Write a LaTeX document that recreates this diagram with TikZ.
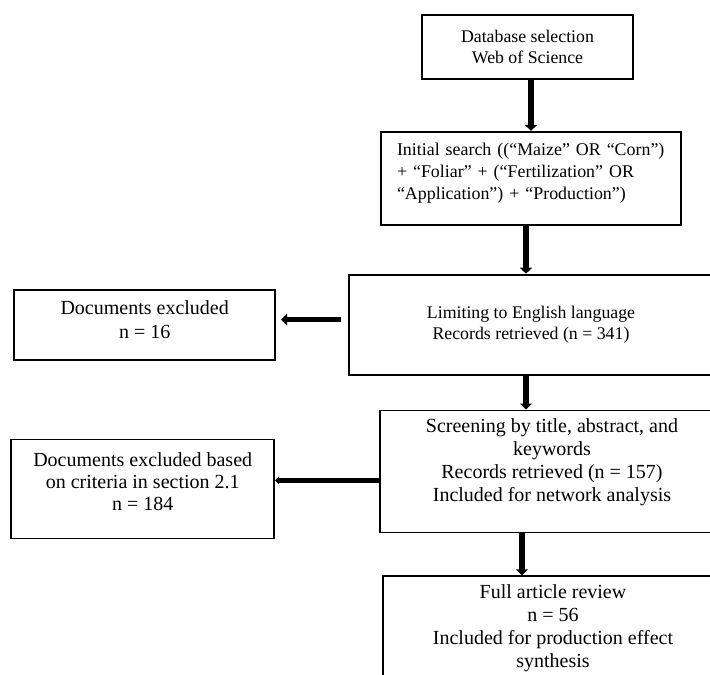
\documentclass[tikz,border=0pt]{standalone}
\usepackage{fontspec}
\setmainfont{Liberation Serif}
\usetikzlibrary{arrows.meta,positioning}

\begin{document}
\begin{tikzpicture}[
    x=1pt, y=1pt,
    box/.style={draw, line width=1.8pt, align=center, inner sep=0pt, font=\fontsize{17.8}{20.5}\selectfont},
    bigbox/.style={box, font=\fontsize{20}{23}\selectfont},
    link/.style={-{Triangle[length=6pt, width=12pt]}, line width=5.5pt},
    sidelink/.style={-{Triangle[length=4pt, width=8pt]}, line width=5pt}
]
\clip (0,0) rectangle (710,-675);
\node[box, minimum width=211pt, minimum height=64pt] (db) at (527.5,-47) {Database selection\\Web of Science};
\node[box, below=51pt of db, xshift=3.5pt, align=left, text width=268pt, inner xsep=16pt, minimum height=93pt, text depth=57.5pt, font=\fontsize{17.9}{21.7}\selectfont] (search) {Initial search ((“Maize” OR “Corn”)\\+ “Foliar” + (“Fertilization” OR\\“Application”) + “Production”)};
\node[box, below=48pt of search, minimum width=364pt, minimum height=100pt] (limit) {Limiting to English language\\Records retrieved (n = 341)};
\node[bigbox, left=72pt of limit, minimum width=261pt, minimum height=70pt, text depth=10pt, font=\fontsize{20}{24}\selectfont] (excl1) {Documents excluded\\n = 16};
\node[bigbox, below=34pt of limit, xshift=21pt, minimum width=344pt, minimum height=122pt, text depth=22pt] (screen) {Screening by title, abstract, and\\keywords\\Records retrieved (n = 157)\\Included for network analysis};
\node[bigbox, left=104pt of screen, yshift=-17.5pt, minimum width=263pt, minimum height=99pt, text depth=15pt, font=\fontsize{20}{22}\selectfont] (excl2) {Documents excluded based\\on criteria in section 2.1\\n = 184};
\node[bigbox, below=42pt of screen, xshift=1pt, minimum width=340pt, minimum height=118pt, text depth=18pt] (review) {Full article review\\n = 56\\Included for production effect\\synthesis};
\draw[link] (search.north |- db.south) -- (search.north);
\draw[link] ([xshift=-5pt]search.south) -- ([xshift=-5pt]limit.north);
\draw[link, shorten <=7pt, shorten >=5pt] ([yshift=5pt]limit.west) -- ([yshift=5pt]limit.west -| excl1.east);
\draw[link] ([xshift=-5pt]limit.south) -- ([xshift=-5pt]limit.south |- screen.north);
\draw[sidelink] ([yshift=-9pt]screen.west) -- ([yshift=-9pt]screen.west -| excl2.east);
\draw[link] ([xshift=-30pt]screen.south) -- ([xshift=-30pt]screen.south |- review.north);
\end{tikzpicture}
\end{document}
